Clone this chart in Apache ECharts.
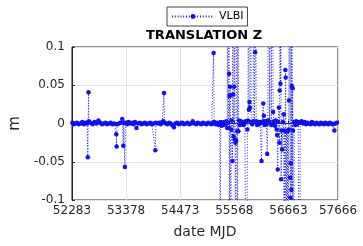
<!DOCTYPE html>
<html>
<head>
<meta charset="utf-8">
<script src="https://cdn.jsdelivr.net/npm/echarts@6/dist/echarts.min.js"></script>
<style>
  html, body { margin: 0; padding: 0; background: #fff; }
  #chart { width: 363px; height: 246px; }
</style>
</head>
<body>
<div id="chart"></div>
<script>
// date (MJD) and Z translation (m).
// values beyond +-0.1 are off-scale points whose lines run out of the box.
const mjd = [
  52290, 52320, 52350, 52385, 52420, 52455, 52490, 52525, 52560, 52590,
  52604, 52611, 52618, 52625, 52660, 52700, 52740, 52780, 52819, 52855,
  52890, 52925, 52960, 52995, 53030, 53065, 53100, 53140, 53180, 53187,
  53194, 53230, 53265, 53301, 53321, 53330, 53354, 53365, 53400, 53430,
  53465, 53500, 53530, 53560, 53589, 53620, 53655, 53690, 53725, 53760,
  53795, 53830, 53865, 53900, 53935, 53970, 53980, 54010, 54045, 54080,
  54110, 54135, 54145, 54155, 54185, 54215, 54250, 54280, 54310, 54346,
  54375, 54410, 54445, 54480, 54515, 54550, 54585, 54620, 54655, 54690,
  54727, 54760, 54795, 54830, 54865, 54900, 54935, 54970, 55005, 55040,
  55075, 55110, 55140, 55149, 55160, 55190, 55220, 55250, 55275,
  // busy stretch 2010-2011
  55282, 55292, 55310, 55330, 55350, 55370, 55390, 55410, 55425, 55430,
  55440, 55451, 55456, 55463, 55466, 55473, 55483, 55490, 55497, 55505,
  55515, 55531, 55537, 55543, 55555, 55563, 55570, 55580, 55590, 55597,
  55605, 55617, 55625, 55631, 55643, 55651, 55663, 55680, 55700,
  55720, 55740, 55760, 55780, 55800, 55818, 55832, 55845, 55852, 55864,
  55875, 55884, 55898, 55910, 55930, 55950, 55960, 55975, 55990, 56000,
  56010, 56030, 56050, 56070, 56090, 56105, 56119, 56130, 56154, 56160,
  56166, 56180, 56200, 56220, 56234, 56245, 56255, 56266, 56280, 56300,
  56315, 56334, 56354, 56370, 56390, 56410, 56425, 56435, 56447, 56455,
  56470, 56480, 56487, 56494, 56501, 56508, 56515, 56525, 56535, 56550,
  56567, 56575, 56587, 56594, 56601, 56608, 56615, 56622, 56636, 56648,
  56655, 56668, 56675, 56688, 56695, 56702, 56710, 56716, 56722, 56730,
  56736, 56742, 56748, 56755, 56768, 56780, 56800, 56820, 56840, 56860,
  56880, 56889, 56900,
  // quiet again
  56930, 56960, 56990, 57020, 57050, 57080, 57110, 57140, 57170, 57200,
  57230, 57260, 57290, 57320, 57350, 57380, 57410, 57440, 57470, 57500,
  57530, 57560, 57592, 57610, 57640
];

const dz = [
  0.001, -0.001, 0.000, 0.001, -0.001, 0.000, 0.002, -0.001, 0.001, 0.000,
  -0.044, 0.002, 0.041, 0.003, 0.001, -0.001, 0.002, 0.000, 0.004, 0.001,
  -0.001, 0.000, 0.001, -0.001, 0.000, 0.001, -0.001, 0.000, -0.014, -0.030,
  -0.001, 0.000, 0.001, 0.006, -0.029, 0.001, -0.057, 0.001, -0.001, 0.002,
  0.000, 0.001, -0.001, 0.002, -0.006, 0.000, 0.001, -0.001, 0.000, 0.001,
  -0.001, 0.000, 0.001, -0.001, 0.000, -0.035, 0.001, 0.000, 0.001, -0.001,
  0.002, 0.003, 0.040, 0.001, 0.000, -0.001, 0.001, 0.000, -0.002, -0.005,
  0.000, 0.001, -0.001, 0.000, 0.001, -0.001, 0.000, 0.001, -0.001, 0.000,
  0.003, 0.000, -0.001, 0.001, 0.000, -0.001, 0.001, 0.000, -0.001, 0.001,
  0.000, -0.001, 0.001, 0.092, 0.002, -0.001, 0.001, -0.002, 0.001,
  -0.35, 0.002, -0.003, 0.001, -0.002, 0.002, -0.001, 0.003, -0.006, 0.35,
  0.001, -0.006, 0.4, 0.065, -0.3, 0.036, 0.048, 0.037, -0.3, -0.008,
  0.004, -0.049, 0.35, 0.038, -0.017, 0.048, 0.4, -0.021, -0.025, -0.3,
  -0.023, 0.35, -0.010, -0.35, 0.3, -0.010, 0.004, -0.002, 0.003,
  -0.001, 0.002, -0.002, 0.001, 0.003, -0.35, -0.008, 0.004, 0.35, 0.018,
  0.028, 0.021, 0.35, 0.002, -0.001, 0.003, 0.35, 0.002, 0.093, 0.4,
  0.003, -0.002, 0.002, -0.001, 0.002, 0.001, -0.049, 0.001, 0.026, 0.003,
  0.010, -0.002, 0.003, -0.001, -0.040, 0.003, 0.004, 0.35, 0.002, 0.4,
  -0.002, 0.35, 0.015, 0.003, -0.003, 0.004, -0.008, -0.015, -0.060, 0.002,
  0.021, -0.025, 0.043, 0.35, 0.052, 0.4, -0.073, -0.009, -0.034, 0.002,
  0.012, -0.3, -0.009, -0.3, 0.070, 0.060, -0.3, -0.010, -0.3, -0.010,
  -0.3, -0.008, 0.030, 0.35, -0.071, -0.097, -0.052, 0.4, -0.087, 0.049,
  0.35, -0.3, 0.046, -0.009, -0.3, 0.002, -0.002, 0.003, -0.001, 0.002,
  0.001, -0.35, 0.001,
  0.003, 0.000, 0.002, -0.001, 0.001, 0.000, -0.001, 0.002, 0.000, -0.001,
  0.001, 0.000, -0.001, 0.001, 0.000, -0.001, 0.001, 0.000, -0.001, 0.001,
  0.000, -0.001, -0.009, 0.000, 0.001
];

const xTicks = { min: 52283, max: 57666, step: 1095 };
const yTicks = { min: -0.1, max: 0.1, step: 0.05 };

const chart = echarts.init(document.getElementById('chart'), null, { renderer: 'canvas' });

const textColor = '#262626';
const font = 'DejaVu Sans';

const option = {
  backgroundColor: '#fff',
  animation: false,
  title: {
    text: 'TRANSLATION Z',
    left: 146,
    top: 29,
    padding: 0,
    textStyle: { fontFamily: font, fontSize: 13, fontWeight: 'bold', color: '#000' }
  },
  legend: {
    data: ['VLBI'],
    left: 167,
    top: 7,
    padding: [4, 4],
    itemWidth: 42,
    itemHeight: 6,
    itemGap: 5,
    borderColor: '#444',
    borderWidth: 1,
    backgroundColor: '#fff',
    textStyle: { fontFamily: font, fontSize: 11, color: '#000' }
  },
  grid: {
    left: 70,
    right: 25,
    top: 47,
    bottom: 46,
    show: true,
    borderColor: textColor,
    borderWidth: 1,
    backgroundColor: '#fff'
  },
  xAxis: {
    type: 'value',
    min: xTicks.min,
    max: xTicks.max,
    interval: xTicks.step,
    name: 'date MJD',
    nameLocation: 'middle',
    nameGap: 25,
    nameTextStyle: { fontFamily: font, fontSize: 14, color: textColor },
    axisLine: { show: true, lineStyle: { color: textColor } },
    axisTick: { show: true, inside: true, length: 3, lineStyle: { color: textColor } },
    splitLine: { show: true, lineStyle: { color: '#e3e3e3' } },
    axisLabel: {
      margin: 5,
      fontFamily: font,
      fontSize: 12,
      color: textColor,
      formatter: v => String(Math.round(v))
    }
  },
  yAxis: {
    type: 'value',
    min: yTicks.min,
    max: yTicks.max,
    interval: yTicks.step,
    name: 'm',
    nameLocation: 'middle',
    nameGap: 44,
    nameRotate: 90,
    nameTextStyle: { fontFamily: font, fontSize: 15, color: textColor },
    axisLine: { show: true, lineStyle: { color: textColor } },
    axisTick: { show: true, inside: true, length: 3, lineStyle: { color: textColor } },
    splitLine: { show: true, lineStyle: { color: '#e3e3e3' } },
    axisLabel: {
      margin: 7,
      fontFamily: font,
      fontSize: 12,
      color: textColor,
      formatter: v => {
        const r = Math.round(v * 100) / 100;
        return r === 0 ? '0' : String(r);
      }
    }
  },
  series: [{
    name: 'VLBI',
    type: 'line',
    data: mjd.map((d, i) => [d, dz[i]]),
    clip: true,
    showSymbol: true,
    symbol: 'circle',
    symbolSize: 4.5,
    color: '#0000ff',
    itemStyle: { color: '#1010f0' },
    lineStyle: { color: '#2020e0', width: 1, type: [1, 1.8] }
  }]
};

chart.setOption(option);
</script>
</body>
</html>
